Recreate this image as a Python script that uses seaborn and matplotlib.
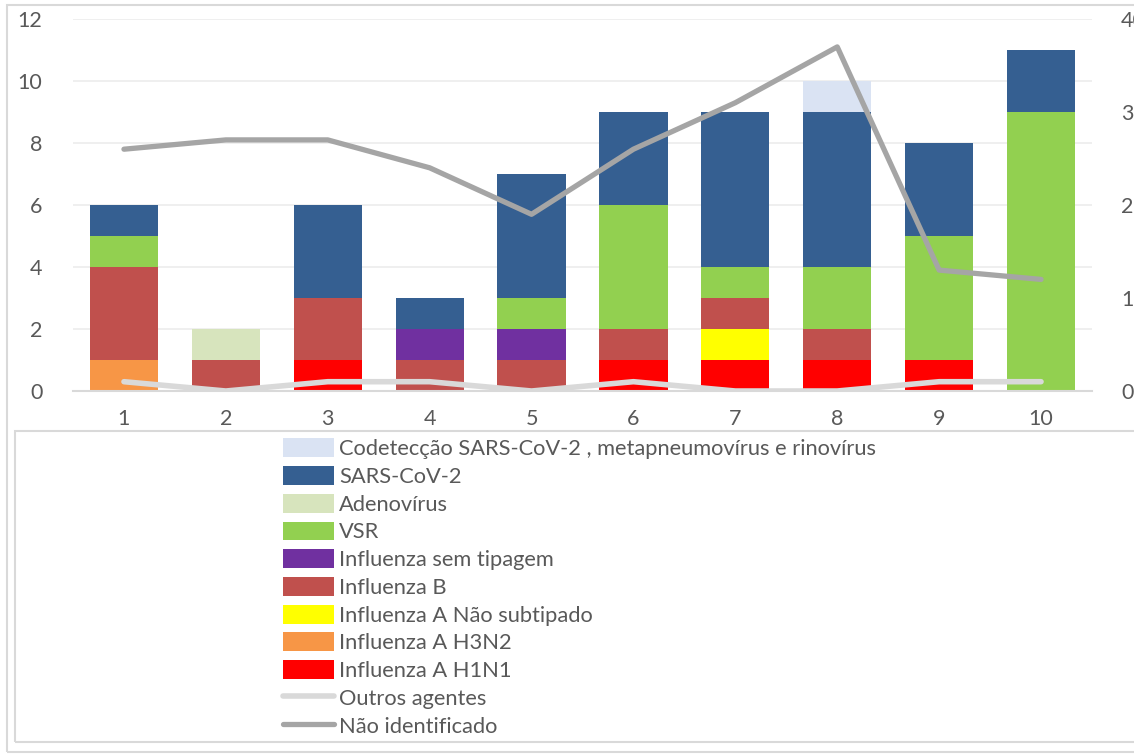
import numpy as np
import pandas as pd
import matplotlib
matplotlib.use("Agg")
import matplotlib.pyplot as plt
from matplotlib.patches import Rectangle
from matplotlib.lines import Line2D
from matplotlib.patches import Patch
import seaborn as sns

weeks = ["1", "2", "3", "4", "5", "6", "7", "8", "9", "10"]

# stacked series, bottom to top
h1n1 = [0, 0, 1, 0, 0, 1, 1, 1, 1, 0]
h3n2 = [1, 0, 0, 0, 0, 0, 0, 0, 0, 0]
a_ns = [0, 0, 0, 0, 0, 0, 1, 0, 0, 0]
inf_b = [3, 1, 2, 1, 1, 1, 1, 1, 0, 0]
sem_tip = [0, 0, 0, 1, 1, 0, 0, 0, 0, 0]
vsr = [1, 0, 0, 0, 1, 4, 1, 2, 4, 9]
adeno = [0, 1, 0, 0, 0, 0, 0, 0, 0, 0]
sars = [1, 0, 3, 1, 4, 3, 5, 5, 3, 2]
codet = [0, 0, 0, 0, 0, 0, 0, 1, 0, 0]

outros = [1, 0, 1, 1, 0, 1, 0, 0, 1, 1]
nao_ident = [26, 27, 27, 24, 19, 26, 31, 37, 13, 12]

series = [
    ("Influenza A H1N1", h1n1, "#ff0000"),
    ("Influenza A H3N2", h3n2, "#f79646"),
    ("Influenza A Não subtipado", a_ns, "#ffff00"),
    ("Influenza B", inf_b, "#c0504d"),
    ("Influenza sem tipagem", sem_tip, "#7030a0"),
    ("VSR", vsr, "#92d050"),
    ("Adenovírus", adeno, "#d7e4bd"),
    ("SARS-CoV-2", sars, "#355f91"),
    ("Codetecção SARS-CoV-2 , metapneumovírus e rinovírus", codet, "#dae3f3"),
]

sns.set_style("white")
plt.rcParams["font.family"] = ["Lato", "DejaVu Sans"]
TXT = "#595959"

W, H = 1134, 756
fig = plt.figure(figsize=(W / 100, H / 100), dpi=100)
ax = fig.add_axes([73 / W, 1 - 391 / H, (1092 - 73) / W, (391 - 19) / H])

bottom = np.zeros(len(weeks))
for name, vals, col in series:
    df = pd.DataFrame({"week": weeks, "v": vals})
    sns.barplot(data=df, x="week", y="v", order=weeks, color=col, width=0.67,
                bottom=bottom, ax=ax, linewidth=0, saturation=1, zorder=2)
    bottom = bottom + np.array(vals)

ax.set_ylim(0, 12)
ax.set_yticks(range(0, 13, 2))
ax.set_xlim(-0.5, 9.5)
ax.set_xlabel("")
ax.set_ylabel("")
ax.yaxis.grid(True, color="#ececec", linewidth=1.2, zorder=0)
ax.set_axisbelow(True)
for s in ["left", "right", "top"]:
    ax.spines[s].set_visible(False)
ax.spines["bottom"].set_color("#d9d9d9")
ax.spines["bottom"].set_linewidth(1.5)
ax.tick_params(axis="y", length=0, pad=22, labelsize=15.5, labelcolor=TXT)
ax.tick_params(axis="x", length=0, pad=13, labelsize=15.5, labelcolor=TXT)

ax2 = ax.twinx()
xpos = np.arange(len(weeks))
sns.lineplot(x=xpos, y=outros, ax=ax2, color="#d9d9d9", linewidth=4.0, zorder=3)
sns.lineplot(x=xpos, y=nao_ident, ax=ax2, color="#a5a5a5", linewidth=3.8, zorder=4)
ax2.set_ylim(0, 40)
ax2.set_yticks(range(0, 41, 10))
ax2.set_xlim(-0.5, 9.5)
for s in ["left", "right", "top", "bottom"]:
    ax2.spines[s].set_visible(False)
ax2.tick_params(axis="y", length=0, pad=21, labelsize=15.5, labelcolor=TXT)
ax2.grid(False)

# borders
fig.patches.append(Rectangle((7 / W, 1 - 752 / H), (W + 10) / W, (752 - 5) / H,
                             transform=fig.transFigure, fill=False,
                             edgecolor="#d9d9d9", linewidth=1.5))
fig.patches.append(Rectangle((15 / W, 1 - 742 / H), (W + 10) / W, (742 - 431) / H,
                             transform=fig.transFigure, fill=False,
                             edgecolor="#d9d9d9", linewidth=1.5))

handles = [Patch(facecolor=c, edgecolor="none") for _, _, c in series[::-1]]
labels = [n for n, _, _ in series[::-1]]
handles += [Line2D([0], [0], color="#d9d9d9", linewidth=4.0),
            Line2D([0], [0], color="#a5a5a5", linewidth=3.8)]
labels += ["Outros agentes", "Não identificado"]
fig.legend(handles, labels, loc="upper left", bbox_to_anchor=(268 / W, 1 - 423 / H),
           frameon=False, fontsize=15.75, labelcolor=TXT, handlelength=2.3,
           handleheight=0.95, handletextpad=0.25, labelspacing=0.31, borderpad=0.2)

fig.savefig("out.png", dpi=100)
